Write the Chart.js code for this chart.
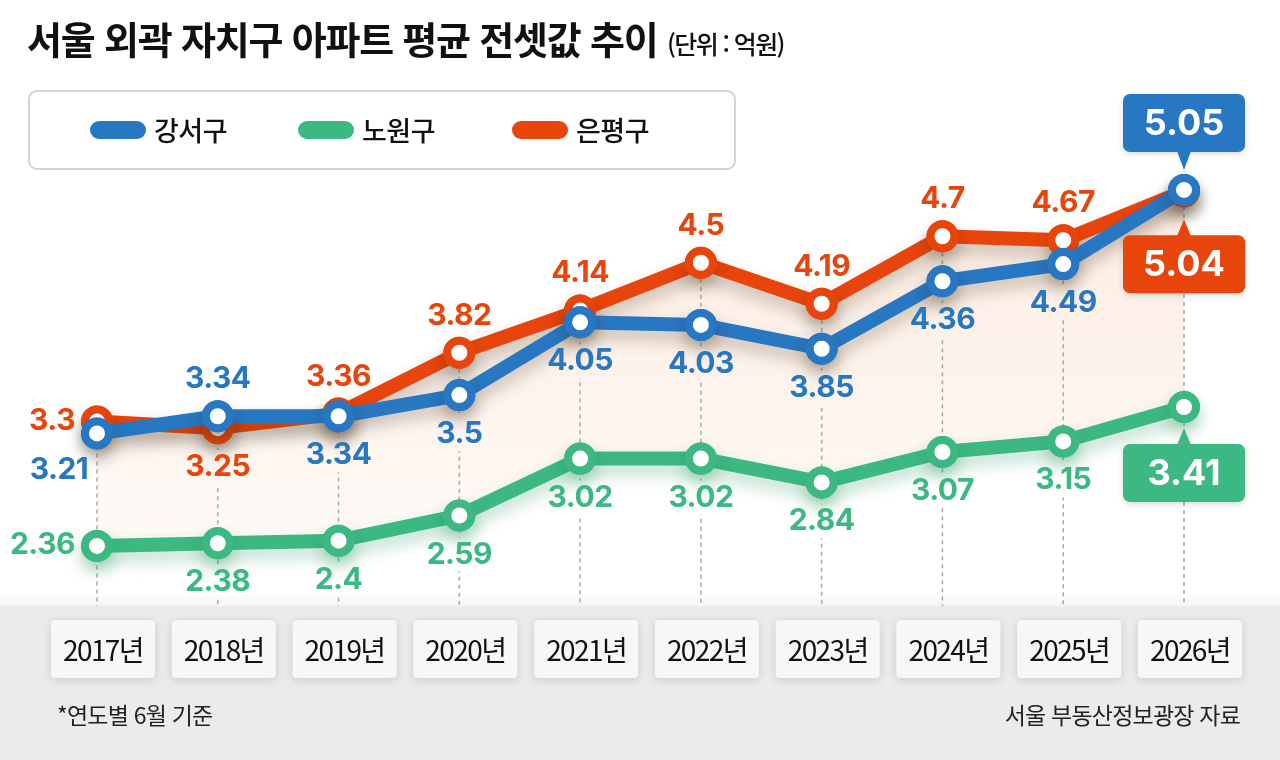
<!DOCTYPE html>
<html lang="ko">
<head>
<meta charset="utf-8">
<script src="https://cdn.jsdelivr.net/npm/chart.js@4"></script>
<style>
  html, body { margin: 0; padding: 0; background: #fff; }
  #wrap { position: relative; width: 1280px; height: 760px; overflow: hidden; font-family: "Noto Sans CJK KR", sans-serif; }
  #chart { position: absolute; left: 0; top: 0; }
  .title { position: absolute; left: 27px; top: 10px; font-size: 38px; font-weight: 700; letter-spacing: -1.2px; color: #111; white-space: nowrap; }
  .title span { font-size: 25px; font-weight: 500; letter-spacing: -1.6px; }
  .legend { position: absolute; left: 28px; top: 90px; width: 708px; height: 80px; border: 2px solid #d4d4d4; border-radius: 9px; box-sizing: border-box; }
  .item { position: absolute; top: 18px; display: flex; align-items: center; font-size: 27px; font-weight: 500; color: #111; letter-spacing: -0.5px; }
  .pill { width: 56px; height: 18px; border-radius: 9px; margin-right: 8px; }
  .note { position: absolute; top: 697px; font-size: 23px; color: #222; letter-spacing: -0.8px; }
</style>
</head>
<body>
<div id="wrap">
  <canvas id="chart" width="1280" height="760"></canvas>
  <div class="title">서울 외곽 자치구 아파트 평균 전셋값 추이 <span>(단위 : 억원)</span></div>
  <div class="legend" id="legend"></div>
  <div class="note" style="left:57px">*연도별 6월 기준</div>
  <div class="note" style="right:40px">서울 부동산정보광장 자료</div>
</div>
<script>
// data (억원)
const years = ["2017년", "2018년", "2019년", "2020년", "2021년", "2022년", "2023년", "2024년", "2025년", "2026년"];
const gangseo = [3.21, 3.34, 3.34, 3.5, 4.05, 4.03, 3.85, 4.36, 4.49, 5.05];
const nowon = [2.36, 2.38, 2.4, 2.59, 3.02, 3.02, 2.84, 3.07, 3.15, 3.41];
const eunpyeong = [3.3, 3.25, 3.36, 3.82, 4.14, 4.5, 4.19, 4.7, 4.67, 5.04];

const BLUE = "#2877c2", GREEN = "#3cb883", ORANGE = "#e8450c";

// where each value label sits relative to its point
const blueLabels = ["bl", "a", "b", "b", "b", "b", "b", "b", "b", {box: "above", gap: 38}];
const greenLabels = ["l", "b", "b", "b", "b", "b", "b", "b", "b", {box: "below", gap: 37}];
const orangeLabels = ["l", "b", "a", "a", "a", "a", "a", "a", "a", {box: "below", gap: 44}];

// legend
const legend = document.getElementById("legend");
[["강서구", BLUE, 60], ["노원구", GREEN, 268], ["은평구", ORANGE, 482]].forEach(([name, c, x]) => {
  const d = document.createElement("div");
  d.className = "item";
  d.style.left = x + "px";
  d.innerHTML = '<div class="pill" style="background:' + c + '"></div>' + name;
  legend.appendChild(d);
});

const LABEL_FONT = '700 30px Inter, "Noto Sans", sans-serif';
const BOX_FONT = '700 36px Inter, "Noto Sans", sans-serif';

function labelSpots(chart) {
  const out = [];
  const specs = [blueLabels, greenLabels, orangeLabels];
  const colors = [BLUE, GREEN, ORANGE];
  chart.data.datasets.forEach((ds, di) => {
    const meta = chart.getDatasetMeta(di);
    meta.data.forEach((pt, i) => {
      const spec = specs[di][i];
      const text = String(ds.data[i]);
      let x = pt.x, y = pt.y, align = "center";
      if (spec === "a") y -= 37;
      else if (spec === "b") y += 39;
      else if (spec === "l") { x -= 22; y -= 1; align = "right"; }
      else if (spec === "bl") { x -= 38; y += 37; }
      else {
        const w = 122, h = 58;
        const top = spec.box === "above" ? pt.y - spec.gap - h : pt.y + spec.gap;
        out.push({text, color: colors[di], box: spec, px: pt.x, py: pt.y, rect: [pt.x - w / 2, top, w, h]});
        return;
      }
      const w = text.length * 16;
      const rx = align === "right" ? x - w : x - w / 2;
      out.push({text, color: colors[di], x, y, align, rect: [rx - 4, y - 17, w + 8, 34]});
    });
  });
  return out;
}

const backdrop = {
  id: "backdrop",
  beforeDraw(chart) {
    const {ctx, chartArea, width, height} = chart;
    ctx.save();
    const g = ctx.createLinearGradient(0, chartArea.bottom - 14, 0, chartArea.bottom);
    g.addColorStop(0, "rgba(0,0,0,0)");
    g.addColorStop(1, "rgba(0,0,0,0.04)");
    ctx.fillStyle = g;
    ctx.fillRect(0, chartArea.bottom - 14, width, 14);
    ctx.fillStyle = "#ebebeb";
    ctx.fillRect(0, chartArea.bottom, width, height - chartArea.bottom);
    ctx.restore();
  },
  beforeDatasetsDraw(chart) {
    // dashed guides from the highest point down to the band, cut around labels
    const {ctx, chartArea, scales} = chart;
    const spots = labelSpots(chart);
    ctx.save();
    ctx.beginPath();
    ctx.rect(0, 0, chart.width, chart.height);
    spots.forEach(s => ctx.rect(s.rect[0] + s.rect[2], s.rect[1], -s.rect[2], s.rect[3]));
    ctx.clip("evenodd");
    ctx.strokeStyle = "#a8a8a8";
    ctx.lineWidth = 1.5;
    ctx.setLineDash([4, 4]);
    years.forEach((y, i) => {
      const x = scales.x.getPixelForValue(i);
      const top = scales.y.getPixelForValue(Math.max(gangseo[i], nowon[i], eunpyeong[i]));
      ctx.beginPath();
      ctx.moveTo(x, top);
      ctx.lineTo(x, chartArea.bottom);
      ctx.stroke();
    });
    ctx.restore();
  },
  beforeDatasetDraw(chart, args) {
    const ctx = chart.ctx;
    ctx.save();
    ctx.shadowColor = args.index === 1 ? "rgba(40,150,90,0.3)" : "rgba(70,50,30,0.28)";
    ctx.shadowBlur = 16;
    ctx.shadowOffsetY = 9;
  },
  afterDatasetDraw(chart, args) {
    const ctx = chart.ctx;
    ctx.restore();
    // redraw the markers without shadow so the centres stay white
    args.meta.data.forEach(p => p.draw(ctx, chart.chartArea));
  },
  afterDatasetsDraw(chart) {
    const {ctx, scales} = chart;
    ctx.save();
    ctx.textBaseline = "middle";
    labelSpots(chart).forEach(s => {
      if (s.box) {
        const [bx, by, bw, bh] = s.rect;
        ctx.fillStyle = s.color;
        ctx.shadowColor = "rgba(0,0,0,0.15)";
        ctx.shadowBlur = 6;
        ctx.shadowOffsetY = 2;
        ctx.beginPath();
        ctx.roundRect(bx, by, bw, bh, 7);
        ctx.fill();
        ctx.shadowColor = "transparent";
        ctx.beginPath();
        if (s.box.box === "above") {
          ctx.moveTo(s.px - 7, by + bh - 1);
          ctx.lineTo(s.px + 7, by + bh - 1);
          ctx.lineTo(s.px, s.py - 20);
        } else {
          ctx.moveTo(s.px - 7, by + 1);
          ctx.lineTo(s.px + 7, by + 1);
          ctx.lineTo(s.px, by - 16);
        }
        ctx.fill();
        ctx.fillStyle = "#fff";
        ctx.font = BOX_FONT;
        ctx.textAlign = "center";
        ctx.fillText(s.text, s.px, by + bh / 2 + 1);
      } else {
        ctx.fillStyle = s.color;
        ctx.font = LABEL_FONT;
        ctx.letterSpacing = "-0.5px";
        ctx.textAlign = s.align;
        ctx.fillText(s.text, s.x, s.y);
        ctx.letterSpacing = "0px";
      }
    });

    // year tabs in the band
    ctx.font = '400 28px "Noto Sans CJK KR", sans-serif';
    ctx.letterSpacing = "-1.6px";
    ctx.textAlign = "center";
    years.forEach((y, i) => {
      const cx = scales.x.getPixelForValue(i) + 6;
      ctx.save();
      ctx.shadowColor = "rgba(0,0,0,0.14)";
      ctx.shadowBlur = 10;
      ctx.shadowOffsetY = 2;
      ctx.fillStyle = "#f7f7f7";
      ctx.beginPath();
      ctx.roundRect(cx - 52, 620, 104, 58, 4);
      ctx.fill();
      ctx.restore();
      ctx.fillStyle = "#111";
      ctx.fillText(y, cx, 650);
    });
    ctx.restore();
  }
};

const common = {
  borderWidth: 14,
  pointRadius: 12,
  pointBorderWidth: 8,
  pointHoverRadius: 12,
  pointBackgroundColor: "#fff",
  borderJoinStyle: "round",
  borderCapStyle: "round",
  tension: 0,
  clip: false
};

new Chart(document.getElementById("chart"), {
  type: "line",
  data: {
    labels: years,
    datasets: [
      Object.assign({label: "강서구", data: gangseo, borderColor: BLUE, pointBorderColor: BLUE, fill: false, order: 0}, common),
      Object.assign({label: "노원구", data: nowon, borderColor: GREEN, pointBorderColor: GREEN, fill: false, order: 1}, common),
      Object.assign({
        label: "은평구", data: eunpyeong, borderColor: ORANGE, pointBorderColor: ORANGE, order: 2,
        fill: {target: 1},
        backgroundColor(c) {
          const a = c.chart.chartArea;
          if (!a) return "rgba(0,0,0,0)";
          const g = c.chart.ctx.createLinearGradient(0, 190, 0, 580);
          g.addColorStop(0, "rgba(240,170,120,0.22)");
          g.addColorStop(1, "rgba(240,170,120,0.05)");
          return g;
        }
      }, common)
    ]
  },
  options: {
    responsive: false,
    animation: false,
    layout: { padding: { top: 150, bottom: 154, left: 97, right: 96 } },
    scales: {
      x: { display: false },
      y: { display: false, min: 1.906, max: 5.352 }
    },
    plugins: {
      legend: { display: false },
      tooltip: { enabled: false },
      filler: { drawTime: "beforeDatasetsDraw" }
    }
  },
  plugins: [backdrop]
});
</script>
</body>
</html>
